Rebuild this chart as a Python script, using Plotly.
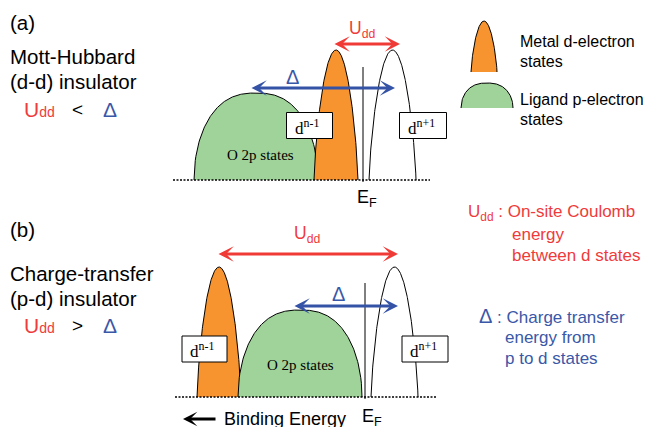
import numpy as np
import plotly.graph_objects as go

# ---- band parameters (energy axis runs left -> right, DOS height upward) ----
# order: O 2p band, lower d band (d^n-1), upper d band (d^n+1)
mh_center = [256, 336, 392.5]      # Mott-Hubbard insulator
mh_halfwidth = [62, 22, 23.5]
mh_height = [87, 130, 130]
ct_center = [300, 219, 394.5]      # charge-transfer insulator
ct_halfwidth = [62, 22, 23.5]
ct_height = [87, 130, 130]
fermi_level = [363, 365]
mh_udd = [333, 400]
mh_delta = [250, 395]
ct_udd = [217, 398]
ct_delta = [293, 398]

# ---- styling ----
ORANGE = "#f7942f"
GREEN = "#9fd39a"
RED = "#ef3a36"
BLUE = "#3553a6"
RED_TXT = "#ef3b3b"
BLUE_TXT = "#3a58a8"
SANS = "Liberation Sans, Arial, sans-serif"
SERIF = "Liberation Serif, Times New Roman, serif"

panel_base = [180, 397]
panel_xrange = [[173, 430], [175, 437]]
fermi_top = [67, 283]

fig = go.Figure()


def dome(center, hw, h, base, a, b, n=200):
    t = np.linspace(-1, 1, n)
    xs = center + hw * t
    ys = base - h * np.clip(1 - np.abs(t) ** a, 0, 1) ** b
    return xs, ys


def band(center, hw, h, base, fill, kind):
    a, b = (2.5, 0.5) if kind == "p" else (2.0, 0.75)
    xs, ys = dome(center, hw, h, base, a, b)
    fig.add_trace(go.Scatter(x=xs, y=ys, mode="lines", fill="toself",
                             fillcolor=fill if fill else "white",
                             line=dict(width=0), hoverinfo="skip"))
    fig.add_trace(go.Scatter(x=xs, y=ys, mode="lines",
                             line=dict(color="black", width=1),
                             hoverinfo="skip"))


def text(x, y, s, size, color="black", family=SANS, xanchor="left"):
    fig.add_annotation(x=x, y=y, xref="x", yref="y", text=s, showarrow=False,
                       xanchor=xanchor, yanchor="middle",
                       font=dict(size=size, color=color, family=family))


def double_arrow(x0, x1, y, color):
    fig.add_annotation(x=x1, y=y, ax=x0, ay=y, xref="x", yref="y",
                       axref="x", ayref="y", text="", showarrow=True,
                       arrowhead=3, startarrowhead=3, arrowside="end+start",
                       arrowsize=0.85, startarrowsize=0.85, arrowwidth=3,
                       arrowcolor=color, standoff=0, startstandoff=0)


def label_box(x0, x1, y0, y1, sup):
    fig.add_shape(type="rect", x0=x0, x1=x1, y0=y0, y1=y1, xref="x", yref="y",
                  fillcolor="white", line=dict(color="black", width=1))
    fig.add_annotation(x=x0 + 6, y=(y0 + y1) / 2 + 1, xref="x", yref="y",
                       text="d<sup>" + sup + "</sup>", showarrow=False,
                       xanchor="left", yanchor="middle",
                       font=dict(size=17, color="black", family=SERIF))


# ---- panel (a): Mott-Hubbard ----
base = panel_base[0]
band(mh_center[0], mh_halfwidth[0], mh_height[0], base, GREEN, "p")
band(mh_center[1], mh_halfwidth[1], mh_height[1], base, ORANGE, "d")
band(mh_center[2], mh_halfwidth[2], mh_height[2], base, None, "d")

# ---- panel (b): charge transfer ----
base = panel_base[1]
band(ct_center[1], ct_halfwidth[1], ct_height[1], base, ORANGE, "d")
band(ct_center[0], ct_halfwidth[0], ct_height[0], base, GREEN, "p")
band(ct_center[2], ct_halfwidth[2], ct_height[2], base, None, "d")

for i in range(2):
    # dotted zero line of each DOS
    fig.add_trace(go.Scatter(x=panel_xrange[i], y=[panel_base[i]] * 2,
                             mode="lines",
                             line=dict(color="black", width=1.4,
                                       dash="2px,1.5px"),
                             hoverinfo="skip"))
    # Fermi level
    fig.add_trace(go.Scatter(x=[fermi_level[i]] * 2,
                             y=[fermi_top[i], panel_base[i] + 2],
                             mode="lines", line=dict(color="black", width=1),
                             hoverinfo="skip"))

# legend glyphs
xs, ys = dome(484, 13, 51, 72, 2.0, 0.75)
fig.add_trace(go.Scatter(x=xs, y=ys, mode="lines", fill="toself",
                         fillcolor=ORANGE, line=dict(width=0), hoverinfo="skip"))
fig.add_trace(go.Scatter(x=xs, y=ys, mode="lines",
                         line=dict(color="black", width=1), hoverinfo="skip"))
xs, ys = dome(487, 26, 25, 108, 2.5, 0.5)
fig.add_trace(go.Scatter(x=xs, y=ys, mode="lines", fill="toself",
                         fillcolor=GREEN, line=dict(width=0), hoverinfo="skip"))
fig.add_trace(go.Scatter(x=xs, y=ys, mode="lines",
                         line=dict(color="black", width=1), hoverinfo="skip"))

# label boxes
label_box(286.5, 332.5, 112.5, 138.5, "n-1")
label_box(399.5, 446.5, 112.5, 138.5, "n+1")
label_box(182, 227, 336, 362, "n-1")
label_box(402, 448, 336, 362, "n+1")

# energy-scale arrows
double_arrow(mh_udd[0], mh_udd[1], 44, RED)
double_arrow(mh_delta[0], mh_delta[1], 88, BLUE)
double_arrow(ct_udd[0], ct_udd[1], 254, RED)
double_arrow(ct_delta[0], ct_delta[1], 306, BLUE)

text(362, 29, "U<sub>dd</sub>", 17.5, RED_TXT, xanchor="center")
text(292.5, 76.5, "Δ", 20, BLUE_TXT, xanchor="center")
text(307, 234, "U<sub>dd</sub>", 17.5, RED_TXT, xanchor="center")
text(338.5, 293.5, "Δ", 20, BLUE_TXT, xanchor="center")

text(260, 155, "O 2p states", 15, family=SERIF, xanchor="center")
text(300, 365, "O 2p states", 15, family=SERIF, xanchor="center")

text(355, 198, "E<sub>F</sub>", 18)
text(360, 417, "E<sub>F</sub>", 18)

# binding energy direction
fig.add_annotation(x=183, y=419, ax=217, ay=419, xref="x", yref="y",
                   axref="x", ayref="y", text="", showarrow=True,
                   arrowhead=3, arrowsize=0.8, arrowwidth=3,
                   arrowcolor="black", standoff=0)
text(222, 418.5, "Binding Energy", 18)

# left-hand titles
text(8, 22, "(a)", 20.5)
text(8, 56.5, "Mott-Hubbard", 20.5)
text(8, 81.5, "(d-d) insulator", 20.5)
text(22, 109.5, 'U<span style="font-size:14px">dd</span>', 21, RED_TXT)
text(70, 109.5, "&lt;", 19)
text(101, 109.5, "Δ", 21, BLUE_TXT)

text(8, 229, "(b)", 20.5)
text(8, 273, "Charge-transfer", 20.5)
text(8, 298, "(p-d) insulator", 20.5)
text(22, 325, 'U<span style="font-size:14px">dd</span>', 21, RED_TXT)
text(70, 325, "&gt;", 19)
text(101, 325, "Δ", 21, BLUE_TXT)

# legend text
text(518, 41.5, "Metal d-electron", 16)
text(518, 61.5, "states", 16)
text(518, 99.5, "Ligand p-electron", 16)
text(518, 119.5, "states", 16)

# definitions
text(466, 213, "U<sub>dd</sub> : On-site Coulomb", 17, RED_TXT)
text(510, 234, "energy", 17, RED_TXT)
text(510, 255, "between d states", 17, RED_TXT)
text(477, 316, '<span style="font-size:20px">Δ</span> : Charge transfer',
     17, BLUE_TXT)
text(503, 337, "energy from", 17, BLUE_TXT)
text(503, 358, "p to d states", 17, BLUE_TXT)

fig.update_layout(
    width=648, height=427,
    margin=dict(l=0, r=0, t=0, b=0),
    paper_bgcolor="white", plot_bgcolor="white",
    showlegend=False,
    xaxis=dict(range=[0, 648], visible=False, fixedrange=True),
    yaxis=dict(range=[427, 0], visible=False, fixedrange=True),
    font=dict(family=SANS),
)

fig.write_html("out.html")
